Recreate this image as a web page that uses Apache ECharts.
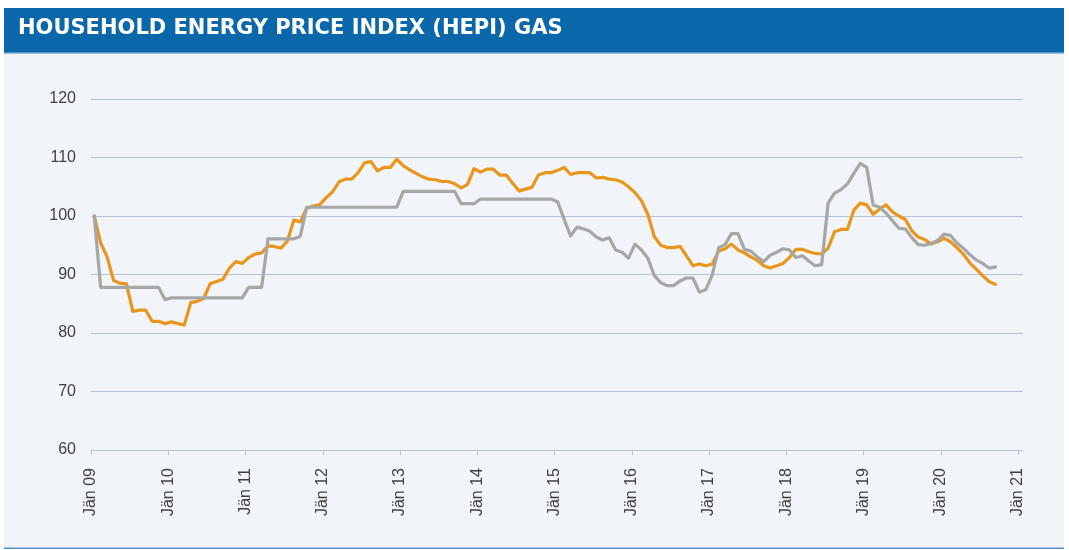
<!DOCTYPE html>
<html>
<head>
<meta charset="utf-8">
<script src="https://cdn.jsdelivr.net/npm/echarts@6/dist/echarts.min.js"></script>
<style>
  html, body { margin: 0; padding: 0; background: #ffffff; }
  #chart { width: 1069px; height: 550px; }
</style>
</head>
<body>
<div id="chart"></div>
<script>
// Monthly index values, Jan 2009 = 100, one entry per month starting Jan 2009
const firstYear = 2009;
const axisYears = 12;          // Jän 09 … Jän 21
const titleText = 'HOUSEHOLD ENERGY PRICE INDEX (HEPI) GAS';
const monthLabelPrefix = 'Jän ';

const hepiGasOrange = [
  100, 95.4, 93, 89, 88.5, 88.4, 83.7, 83.9, 83.9, 82, 82, 81.6,
  81.9, 81.6, 81.4, 85.2, 85.4, 85.9, 88.4, 88.8, 89.2, 91.1, 92.2, 91.9,
  92.9, 93.5, 93.7, 94.9, 94.8, 94.5, 95.7, 99.3, 99, 101.3, 101.7, 101.9,
  103.1, 104.1, 105.8, 106.3, 106.3, 107.4, 109.1, 109.3, 107.7, 108.3, 108.3, 109.7,
  108.6, 107.9, 107.3, 106.7, 106.3, 106.2, 105.9, 105.9, 105.5, 104.8, 105.4, 108.1,
  107.5, 108, 108, 107, 107, 105.6, 104.3, 104.6, 104.9, 107, 107.4, 107.4,
  107.8, 108.3, 107.1, 107.4, 107.4, 107.4, 106.5, 106.6, 106.3, 106.2, 105.8, 105,
  104, 102.6, 100.3, 96.5, 95, 94.6, 94.6, 94.8, 93.2, 91.5, 91.8, 91.5,
  91.8, 94, 94.4, 95.2, 94.2, 93.7, 93, 92.4, 91.5, 91.1, 91.5, 91.9,
  92.9, 94.3, 94.3, 93.9, 93.6, 93.5, 94.5, 97.3, 97.7, 97.7, 101, 102.2,
  101.9, 100.3, 101.2, 101.9, 100.7, 100, 99.4, 97.5, 96.4, 96, 95.2, 95.6,
  96.2, 95.6, 94.6, 93.5, 92, 90.9, 89.8, 88.8, 88.3
];

const hepiGasGray = [
  100, 87.8, 87.8, 87.8, 87.8, 87.8, 87.8, 87.8, 87.8, 87.8, 87.8, 85.7,
  86, 86, 86, 86, 86, 86, 86, 86, 86, 86, 86, 86,
  87.8, 87.8, 87.8, 96.1, 96.1, 96.1, 96.1, 96.1, 96.5, 101.5, 101.5, 101.5,
  101.5, 101.5, 101.5, 101.5, 101.5, 101.5, 101.5, 101.5, 101.5, 101.5, 101.5, 101.5,
  104.2, 104.2, 104.2, 104.2, 104.2, 104.2, 104.2, 104.2, 104.2, 102.1, 102.1, 102.1,
  102.9, 102.9, 102.9, 102.9, 102.9, 102.9, 102.9, 102.9, 102.9, 102.9, 102.9, 102.9,
  102.4, 99.4, 96.6, 98.1, 97.8, 97.4, 96.4, 95.9, 96.3, 94.2, 93.8, 92.8,
  95.2, 94.2, 92.8, 89.8, 88.6, 88.1, 88.1, 88.9, 89.4, 89.4, 87, 87.4,
  89.9, 94.6, 95.1, 97, 97, 94.3, 94, 93, 92.2, 93.3, 93.8, 94.4,
  94.2, 92.9, 93.2, 92.3, 91.5, 91.7, 102.2, 103.9, 104.5, 105.5, 107.3, 109,
  108.3, 101.9, 101.5, 100.5, 99.2, 97.9, 97.8, 96.3, 95.1, 95, 95.3, 95.8,
  96.9, 96.7, 95.4, 94.5, 93.4, 92.5, 91.9, 91.1, 91.3
];

const yTicks = { min: 60, max: 120, step: 10 };

// each month is plotted in the middle of its slot on a month-count axis
const toPoints = values => values.map((v, i) => [i + 0.5, v]);

const yearLabel = m => monthLabelPrefix + String((firstYear + m / 12) % 100).padStart(2, '0');

const chart = echarts.init(document.getElementById('chart'), null, { renderer: 'canvas' });

const axisColor = '#b5c1d9';
const textColor = '#3f3f3f';
const font = '"Liberation Sans", Arial, sans-serif';
const plotTop = 99, plotBottom = 100, plotLeft = 91;

chart.setOption({
  animation: false,
  backgroundColor: '#ffffff',
  graphic: [
    { type: 'rect', z: -10, shape: { x: 4, y: 53, width: 1060, height: 495 }, style: { fill: '#f1f4f9' } },
    { type: 'rect', z: -5, shape: { x: 4, y: 8, width: 1060, height: 44 }, style: { fill: '#0a67a9' } },
    { type: 'rect', z: -4, shape: { x: 4, y: 52, width: 1060, height: 1.5 }, style: { fill: '#4a8fc8' } },
    { type: 'rect', z: -4, shape: { x: 4, y: 547.5, width: 1060, height: 1.5 }, style: { fill: '#5b93c7' } },
    {
      type: 'text', z: 10, x: 18, y: 29,
      style: {
        text: titleText, fill: '#ffffff',
        verticalAlign: 'middle', align: 'left',
        font: 'bold 21px "DejaVu Sans", sans-serif'
      }
    }
  ],
  // grid 0 carries the horizontal gridlines (slightly wider than the time axis),
  // grid 1 carries the time axis and the two index lines
  grid: [
    { left: plotLeft, right: 46, top: plotTop, bottom: plotBottom, containLabel: false },
    { left: plotLeft, right: 51, top: plotTop, bottom: plotBottom, containLabel: false }
  ],
  xAxis: [
    { gridIndex: 0, type: 'value', min: 0, max: 1, show: false },
    {
      gridIndex: 1,
      type: 'value',
      min: 0,
      max: axisYears * 12,
      interval: 12,
      axisLine: { show: true, lineStyle: { color: axisColor, width: 1 } },
      axisTick: { show: true, length: 5, lineStyle: { color: axisColor } },
      splitLine: { show: false },
      axisLabel: {
        rotate: 90, margin: 18, fontSize: 16, color: textColor, fontFamily: font,
        formatter: yearLabel
      }
    }
  ],
  yAxis: [
    {
      gridIndex: 0,
      type: 'value',
      min: yTicks.min,
      max: yTicks.max,
      interval: yTicks.step,
      axisLine: { show: false },
      axisTick: { show: false },
      splitLine: { show: true, lineStyle: { color: axisColor, width: 1 } },
      axisLabel: { margin: 15, fontSize: 16, color: textColor, fontFamily: font }
    },
    {
      gridIndex: 1,
      type: 'value',
      min: yTicks.min,
      max: yTicks.max,
      interval: yTicks.step,
      show: false,
      splitLine: { show: false }
    }
  ],
  series: [
    {
      name: 'HEPI Gas orange',
      type: 'line',
      xAxisIndex: 1, yAxisIndex: 1,
      data: toPoints(hepiGasOrange),
      showSymbol: false,
      lineStyle: { color: '#e8961c', width: 3.2, cap: 'round', join: 'round' },
      z: 3
    },
    {
      name: 'HEPI Gas gray',
      type: 'line',
      xAxisIndex: 1, yAxisIndex: 1,
      data: toPoints(hepiGasGray),
      showSymbol: false,
      lineStyle: { color: '#a6a6a6', width: 3.2, cap: 'round', join: 'round' },
      z: 4
    }
  ]
});
</script>
</body>
</html>
